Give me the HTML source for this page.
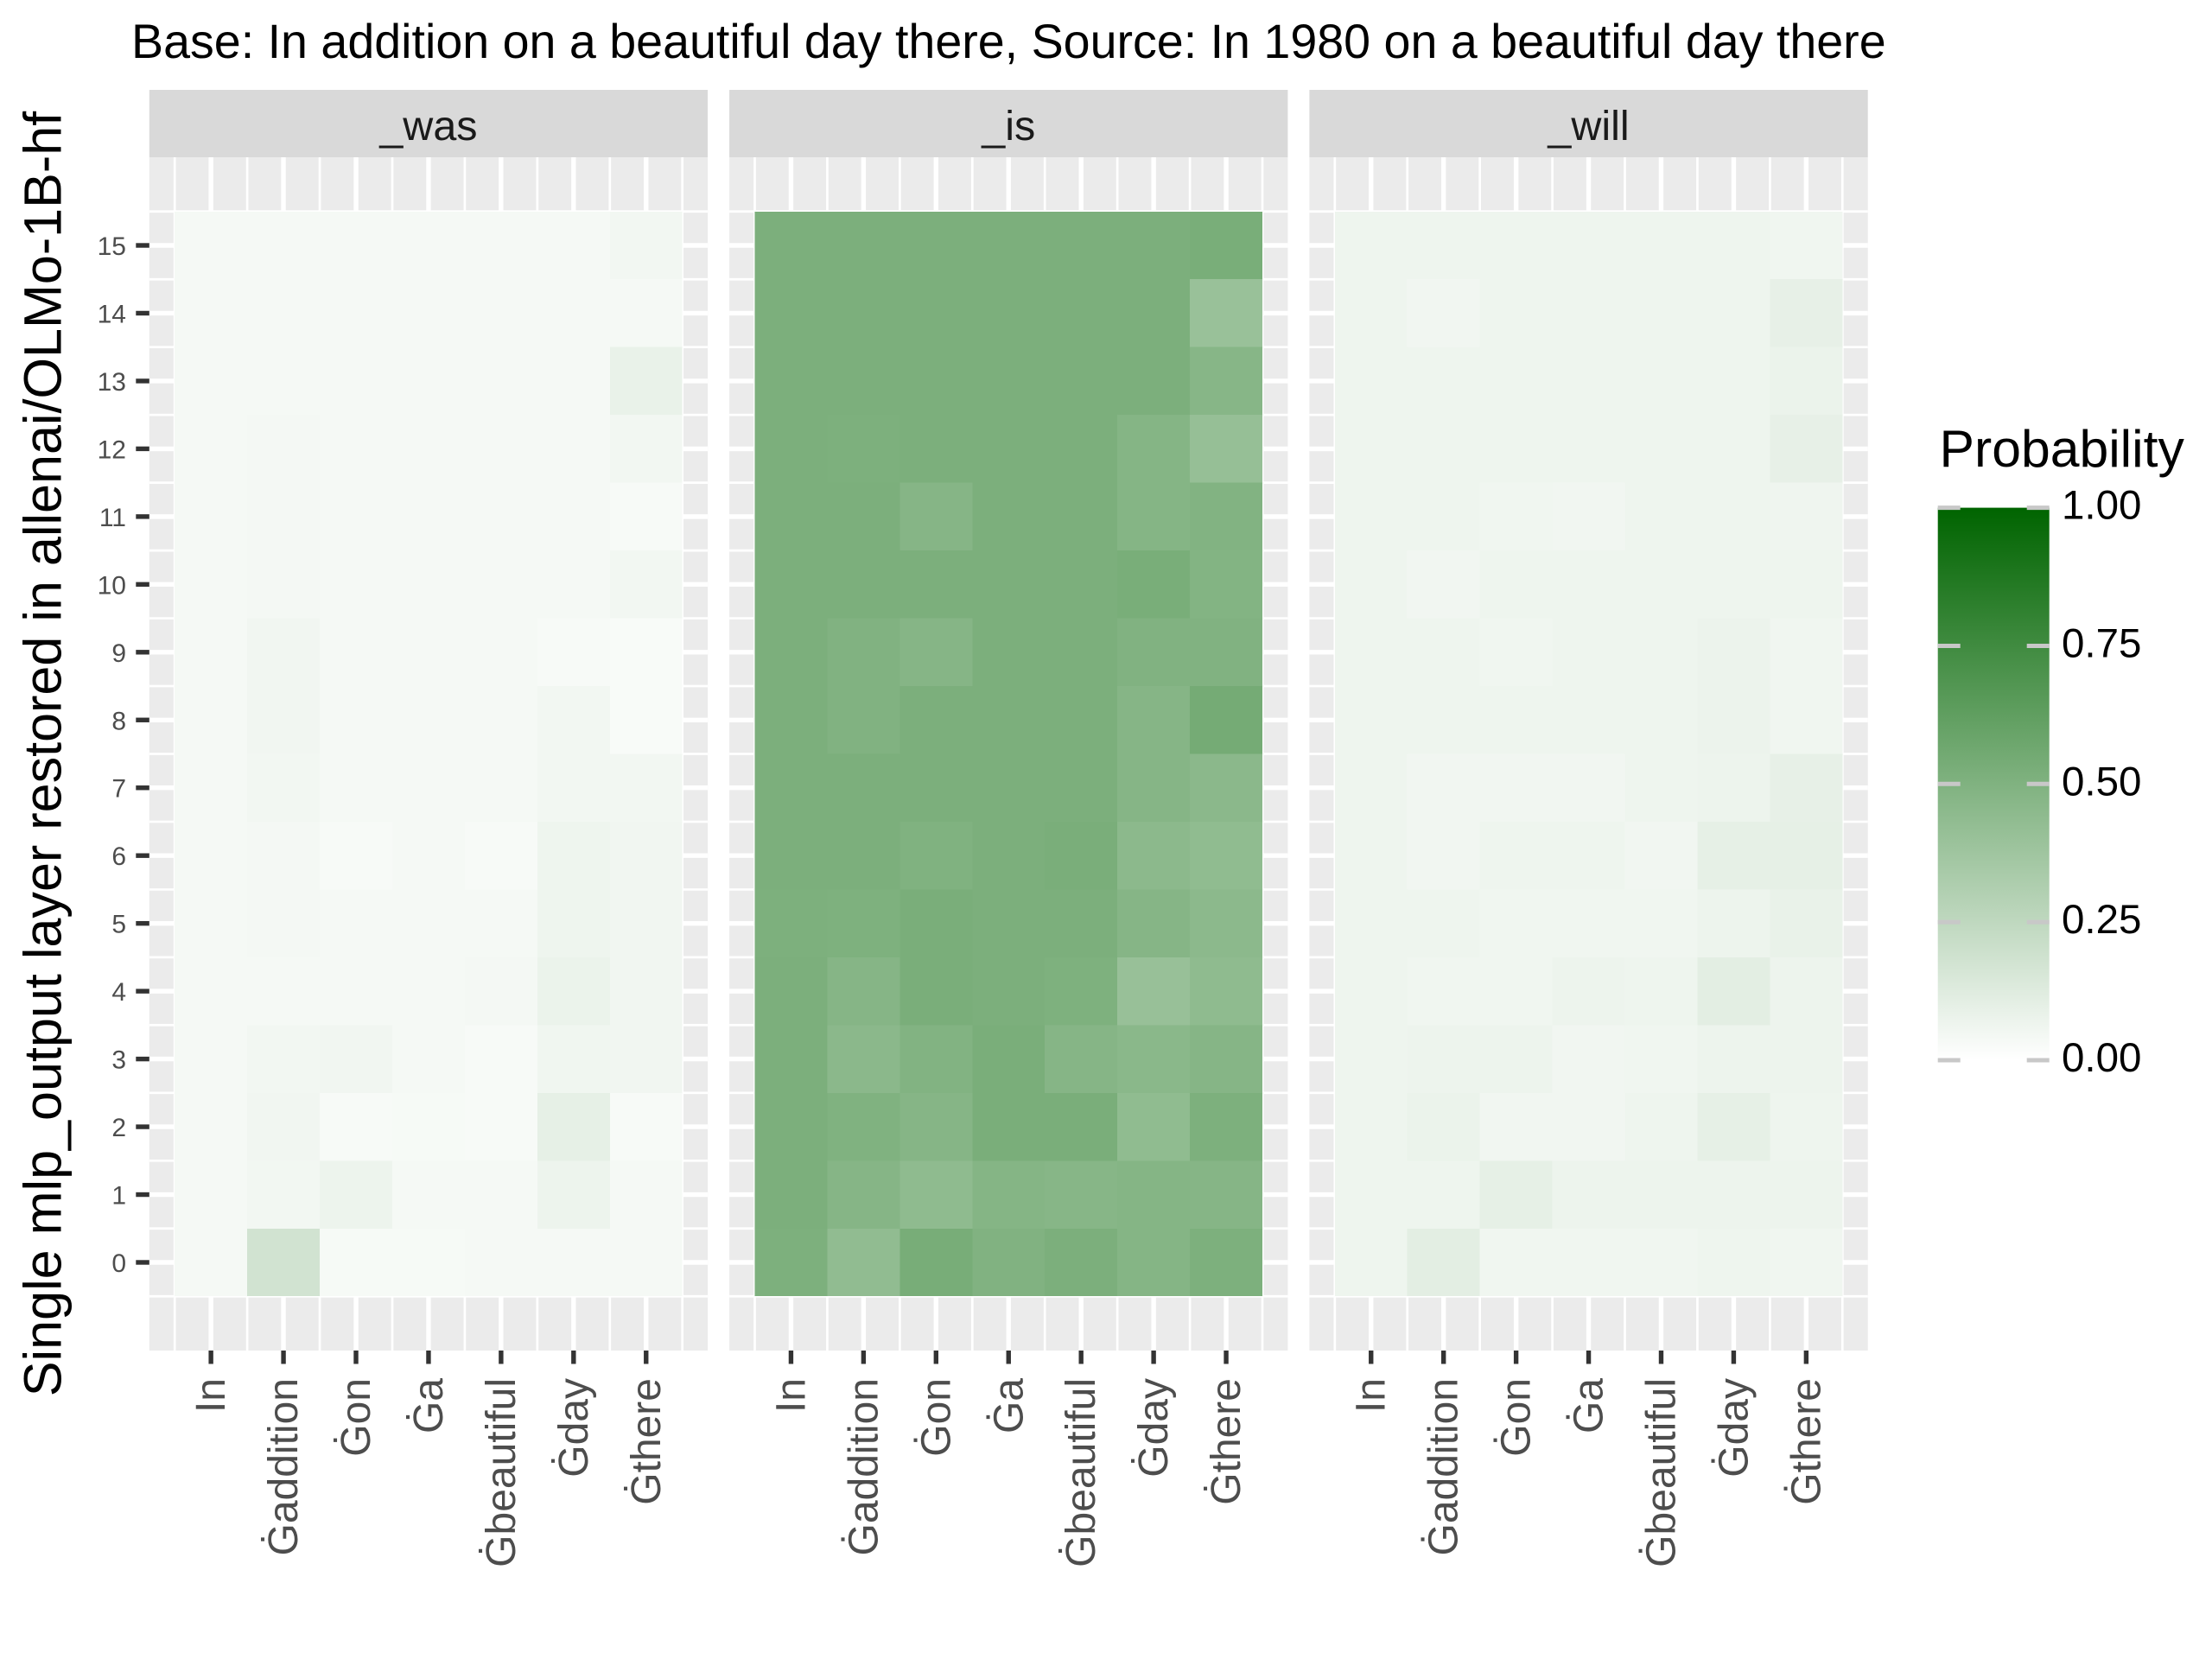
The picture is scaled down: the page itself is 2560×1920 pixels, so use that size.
<!DOCTYPE html>
<html lang="en">
<head>
<meta charset="utf-8">
<title>Base vs Source heatmap</title>
<style>
html,body{margin:0;padding:0;background:#fff;}
body{width:2560px;height:1920px;overflow:hidden;}
svg{display:block;}
text{font-family:"Liberation Sans",Arial,sans-serif;}
</style>
</head>
<body>
<svg id="chart" xmlns="http://www.w3.org/2000/svg" width="2560" height="1920" viewBox="0 0 2560 1920">
  <defs>
    <linearGradient id="legendGradient" x1="0" y1="1" x2="0" y2="0"></linearGradient>
  </defs>
  <rect x="0" y="0" width="2560" height="1920" fill="#ffffff"></rect>
  <text x="152" y="67" font-size="55.6" fill="#000000">Base: In addition on a beautiful day there, Source: In 1980 on a beautiful day there</text>
  <text transform="translate(70.5,872.5) rotate(-90)" text-anchor="middle" font-size="61.1" fill="#000000">Single mlp_output layer restored in allenai/OLMo-1B-hf</text>
  <text x="2244.5" y="540" font-size="60.7" fill="#000000">Probability</text>
  <g id="panels"></g>
  <g id="legend"></g>
</svg>
<script>
const facets = ["_was", "_is", "_will"];
const tokens = ["In", "Ġaddition", "Ġon", "Ġa", "Ġbeautiful", "Ġday", "Ġthere"];
const layers = [15, 14, 13, 12, 11, 10, 9, 8, 7, 6, 5, 4, 3, 2, 1, 0];
const layerLabels = ["15", "14", "13", "12", "11", "10", "9", "8", "7", "6", "5", "4", "3", "2", "1", "0"];
const legendBreaks = [0, 0.25, 0.5, 0.75, 1];
const legendLabels = ["0.00", "0.25", "0.50", "0.75", "1.00"];

const wasValues = [
  [.04, .04, .04, .04, .04, .04, .05],
  [.04, .04, .04, .04, .04, .04, .04],
  [.04, .04, .04, .04, .04, .04, .085],
  [.04, .045, .04, .04, .04, .04, .05],
  [.04, .045, .04, .04, .04, .04, .03],
  [.04, .045, .04, .04, .04, .04, .05],
  [.04, .055, .04, .04, .04, .03, .028],
  [.04, .055, .04, .04, .04, .05, .028],
  [.04, .05, .04, .04, .04, .05, .05],
  [.04, .045, .033, .04, .033, .065, .055],
  [.04, .045, .04, .04, .04, .065, .055],
  [.04, .04, .04, .04, .045, .08, .055],
  [.04, .05, .055, .04, .033, .06, .055],
  [.04, .055, .033, .035, .033, .10, .033],
  [.04, .05, .07, .04, .04, .07, .04],
  [.04, .18, .035, .035, .04, .04, .04]
];
const isValues = [
  [.515, .515, .515, .515, .515, .515, .525],
  [.515, .515, .515, .515, .515, .515, .40],
  [.515, .515, .515, .515, .515, .515, .47],
  [.515, .51, .515, .515, .515, .48, .41],
  [.515, .515, .475, .515, .515, .48, .49],
  [.515, .515, .515, .515, .515, .525, .485],
  [.515, .495, .475, .515, .515, .495, .495],
  [.515, .495, .515, .515, .515, .475, .54],
  [.515, .515, .515, .515, .515, .475, .455],
  [.515, .515, .50, .515, .52, .45, .435],
  [.51, .505, .52, .515, .515, .475, .45],
  [.515, .475, .52, .515, .505, .405, .44],
  [.515, .455, .49, .52, .475, .46, .475],
  [.515, .50, .475, .52, .52, .435, .51],
  [.515, .475, .44, .48, .47, .48, .475],
  [.51, .43, .53, .495, .515, .48, .51]
];
const willValues = [
  [.065, .065, .065, .065, .065, .065, .06],
  [.065, .055, .065, .065, .065, .065, .095],
  [.065, .065, .065, .065, .065, .065, .08],
  [.065, .065, .065, .065, .065, .065, .095],
  [.065, .065, .06, .055, .065, .065, .062],
  [.065, .055, .065, .065, .065, .065, .065],
  [.065, .065, .06, .065, .065, .075, .06],
  [.065, .065, .065, .065, .065, .075, .06],
  [.065, .055, .055, .055, .065, .07, .095],
  [.065, .055, .065, .065, .055, .10, .10],
  [.065, .065, .06, .06, .06, .07, .085],
  [.065, .06, .06, .07, .065, .11, .07],
  [.065, .07, .07, .055, .06, .07, .07],
  [.065, .08, .055, .055, .065, .10, .065],
  [.065, .065, .10, .07, .07, .07, .07],
  [.065, .11, .06, .06, .06, .065, .06]
];
const facetValues = [wasValues, isValues, willValues];

const SVGNS = "http://www.w3.org/2000/svg";
const panelLeft0 = 172.8, panelWidth = 646.3, panelGap = 25;
const panelTop = 182, panelBottom = 1563, stripTop = 104;
const tileHeight = (panelBottom - panelTop) / 17.6;
const tileWidth = panelWidth / 7.7;

function panelLeft(f) { return panelLeft0 + f * (panelWidth + panelGap); }
function xScale(f, i) { return panelLeft(f) + (i + 0.85) * tileWidth; }
function yScale(layer) { return panelTop + (15.5 + 0.8 - layer) * tileHeight; }
function fillColor(t) {
  const r = Math.round(255 * (1 - t));
  const g = Math.round(255 - 155 * t);
  const b = Math.round(255 * (1 - t));
  return "rgb(" + r + "," + g + "," + b + ")";
}
function legendY(v) { return 1227 - v * 639.4; }
function make(tag, parent) {
  const el = document.createElementNS(SVGNS, tag);
  parent.appendChild(el);
  return el;
}
function setAll(el, props) {
  for (const k in props) el.setAttribute(k, props[k]);
}

const panelsRoot = document.getElementById("panels");
facets.forEach(function (facet, f) {
  const g = make("g", panelsRoot);
  
  
  const L = panelLeft(f);

  const strip = make("rect", g);
  setAll(strip, { x: L, y: stripTop, width: panelWidth, height: panelTop - stripTop, fill: "#D9D9D9" });
  
  

  const stripLabel = make("text", g);
  setAll(stripLabel, { x: L + panelWidth / 2, y: 162, "text-anchor": "middle", "font-size": 48.5, fill: "#1A1A1A" });
  stripLabel.textContent = facet;
  
  

  const bg = make("rect", g);
  setAll(bg, { x: L, y: panelTop, width: panelWidth, height: panelBottom - panelTop, fill: "#EBEBEB" });
  
  

  // minor grid
  for (let i = 0; i <= tokens.length; i++) {
    const x = xScale(f, i - 0.5);
    const ln = make("line", g);
    setAll(ln, { x1: x, x2: x, y1: panelTop, y2: panelBottom, stroke: "#fff", "stroke-width": 2.7 });
    
    
  }
  for (let j = 0; j <= layers.length; j++) {
    const y = yScale(j - 0.5);
    const ln = make("line", g);
    setAll(ln, { x1: L, x2: L + panelWidth, y1: y, y2: y, stroke: "#fff", "stroke-width": 2.7 });
    
    
  }
  // major grid
  tokens.forEach(function (tok, i) {
    const x = xScale(f, i);
    const ln = make("line", g);
    setAll(ln, { x1: x, x2: x, y1: panelTop, y2: panelBottom, stroke: "#fff", "stroke-width": 5.4 });
    
    
  });
  layers.forEach(function (layer) {
    const y = yScale(layer);
    const ln = make("line", g);
    setAll(ln, { x1: L, x2: L + panelWidth, y1: y, y2: y, stroke: "#fff", "stroke-width": 5.4 });
    
    
  });

  // tiles
  facetValues[f].forEach(function (row, r) {
    row.forEach(function (value, c) {
      const x0 = xScale(f, c - 0.5), x1 = xScale(f, c + 0.5);
      const y0 = yScale(layers[r] + 0.5), y1 = yScale(layers[r] - 0.5);
      const tile = make("rect", g);
      setAll(tile, { x: x0, y: y0, width: x1 - x0, height: y1 - y0, fill: fillColor(value), "shape-rendering": "crispEdges" });
      
      
    });
  });

  // x ticks and labels
  tokens.forEach(function (tok, i) {
    const x = xScale(f, i);
    const tick = make("line", g);
    setAll(tick, { x1: x, x2: x, y1: panelBottom, y2: panelBottom + 15.5, stroke: "#333333", "stroke-width": 5.4 });
    
    
    const label = make("text", g);
    setAll(label, { transform: "translate(" + (x + 16) + ",1595) rotate(-90)", "text-anchor": "end", "font-size": 48, fill: "#4D4D4D" });
    label.textContent = tok;
    
    
  });
});

// y axis on the first panel only
const yAxis = make("g", panelsRoot);


layers.forEach(function (layer, k) {
  const y = yScale(layer);
  const tick = make("line", yAxis);
  setAll(tick, { x1: panelLeft0 - 15.5, x2: panelLeft0, y1: y, y2: y, stroke: "#333333", "stroke-width": 5.4 });
  
  
  const label = make("text", yAxis);
  setAll(label, { x: 146, y: y + 11, "text-anchor": "end", "font-size": 30, fill: "#4D4D4D" });
  label.textContent = layerLabels[k];
  
  
});

// legend
const gradient = document.getElementById("legendGradient");
legendBreaks.forEach(function (v) {
  const stop = make("stop", gradient);
  stop.setAttribute("offset", v);
  stop.setAttribute("stop-color", fillColor(v));
});
const legendRoot = document.getElementById("legend");
const legendBar = make("rect", legendRoot);
setAll(legendBar, { x: 2242.7, y: legendY(1), width: 129, height: legendY(0) - legendY(1), fill: "url(#legendGradient)" });


legendBreaks.forEach(function (v, k) {
  const y = legendY(v);
  const left = make("line", legendRoot);
  setAll(left, { x1: 2242.7, x2: 2268.7, y1: y, y2: y, stroke: "#C8C8C8", "stroke-width": 5 });
  
  
  const right = make("line", legendRoot);
  setAll(right, { x1: 2345.7, x2: 2371.7, y1: y, y2: y, stroke: "#C8C8C8", "stroke-width": 5 });
  
  
  const label = make("text", legendRoot);
  setAll(label, { x: 2386, y: y + 13, "font-size": 47.5, fill: "#000000" });
  label.textContent = legendLabels[k];
  
  
});
</script>
</body>
</html>
